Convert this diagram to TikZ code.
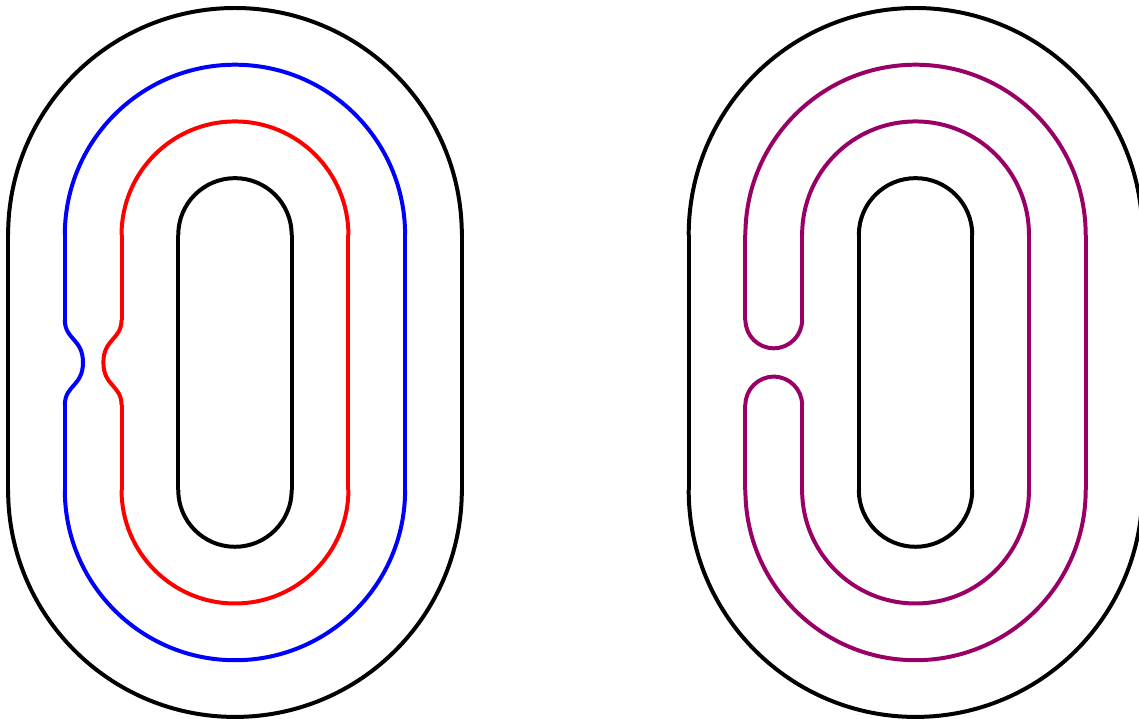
\documentclass[tikz,border=0pt]{standalone}
\usepackage{xcolor}
\definecolor{mixpurple}{rgb}{0.6,0,0.4}
\tikzset{
  curve/.style={line width=2pt},
  blk/.style={curve,black},
  blu/.style={curve,blue},
  rd/.style={curve,red},
  pur/.style={curve,mixpurple}
}
% full stadium: style, centre x, radius
\newcommand\fullstadium[3]{%
  \draw[#1] ({#2-#3},2.25) arc (180:0:#3);
  \draw[#1] ({#2-#3},-2.25) arc (180:360:#3);
  \foreach \ya/\yb in {2.25/0.75,0.75/-0.75,-0.75/-2.25}{
    \draw[#1] ({#2-#3},\ya) -- ({#2-#3},\yb);
    \draw[#1] ({#2+#3},\ya) -- ({#2+#3},\yb);
  }%
}
% stadium without left side: style, centre x, radius
\newcommand\openstadium[3]{%
  \draw[#1] ({#2-#3},2.25) arc (180:0:#3);
  \draw[#1] ({#2-#3},-2.25) arc (180:360:#3);
  \draw[#1] ({#2-#3},2.25) -- ({#2-#3},0.75);
  \draw[#1] ({#2-#3},-0.75) -- ({#2-#3},-2.25);
  \foreach \ya/\yb in {2.25/0.75,0.75/-0.75,-0.75/-2.25}{
    \draw[#1] ({#2+#3},\ya) -- ({#2+#3},\yb);
  }%
}
\begin{document}
\begin{tikzpicture}
\useasboundingbox (-4.143,-6.285) rectangle (15.94,6.391);
\clip (-4.143,-6.285) rectangle (15.94,6.391);
% ---- left figure ----
\fullstadium{blk}{0}{4}
\fullstadium{blk}{0}{1}
\openstadium{blu}{0}{3}
\openstadium{rd}{0}{2}
\draw[blu] (-3,0.75) .. controls (-3,0.4) and (-2.68,0.42) .. (-2.68,0)
                     .. controls (-2.68,-0.42) and (-3,-0.4) .. (-3,-0.75);
\draw[rd] (-2,0.75) .. controls (-2,0.4) and (-2.32,0.42) .. (-2.32,0)
                    .. controls (-2.32,-0.42) and (-2,-0.4) .. (-2,-0.75);
% ---- right figure ----
\fullstadium{blk}{12}{4}
\fullstadium{blk}{12}{1}
\openstadium{pur}{12}{3}
\openstadium{pur}{12}{2}
\draw[pur] (9,0.75) arc (180:360:0.5);
\draw[pur] (9,-0.75) arc (180:0:0.5);
\end{tikzpicture}
\end{document}
